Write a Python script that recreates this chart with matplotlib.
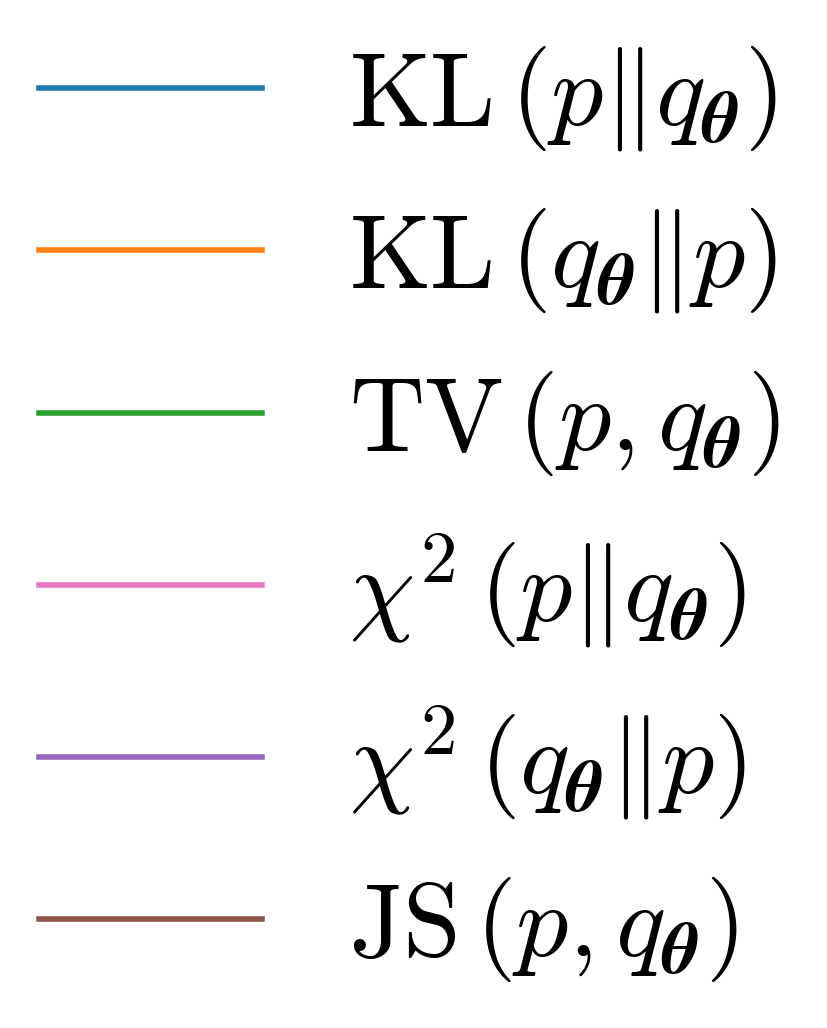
import matplotlib
matplotlib.use("Agg")
import matplotlib.pyplot as plt
from matplotlib.lines import Line2D

plt.rcParams['mathtext.fontset'] = 'cm'
plt.rcParams['font.family'] = 'serif'
plt.rcParams['font.serif'] = ['DejaVu Serif']

labels = [
    r"$\mathrm{KL}\,(p\|q_{\boldsymbol{\theta}})$",
    r"$\mathrm{KL}\,(q_{\boldsymbol{\theta}}\|p)$",
    r"$\mathrm{TV}\,(p,q_{\boldsymbol{\theta}})$",
    r"$\chi^2\,(p\|q_{\boldsymbol{\theta}})$",
    r"$\chi^2\,(q_{\boldsymbol{\theta}}\|p)$",
    r"$\mathrm{JS}\,(p,q_{\boldsymbol{\theta}})$",
]
colors = ["#1f77b4", "#ff7f0e", "#2ca02c", "#e377c2", "#9467bd", "#8c564b"]

fig = plt.figure(figsize=(8.28, 10.28), dpi=100)
handles = [Line2D([], [], color=c, lw=4.0) for c in colors]
fig.legend(handles, labels, loc='center', bbox_to_anchor=(0.494, 0.5),
           frameon=False, fontsize=75,
           handlelength=2.14, handletextpad=0.835, labelspacing=0.51,
           borderaxespad=0.0, borderpad=0.0)
fig.savefig("out.png", dpi=100)
